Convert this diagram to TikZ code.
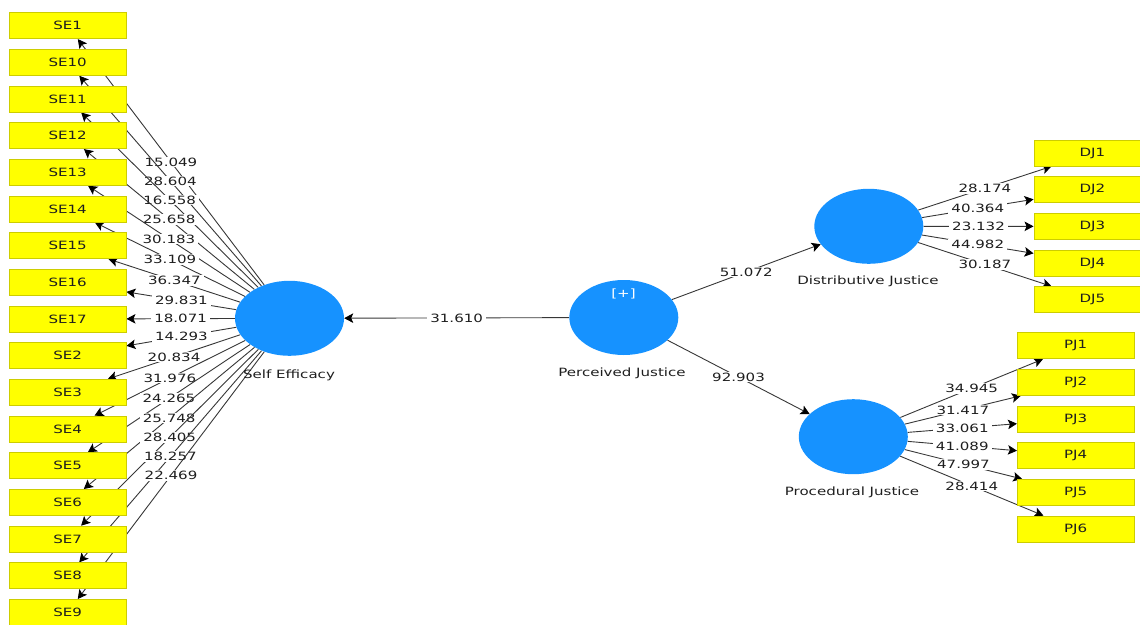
\documentclass[tikz,border=0pt]{standalone}
\usepackage{fontspec}
\setmainfont{DejaVu Sans}[FakeStretch=1.32]
\usetikzlibrary{shapes.geometric,arrows.meta}

\pgfdeclarelayer{edges}
\pgfsetlayers{edges,main}

\definecolor{lvblue}{RGB}{22,146,255}
\definecolor{mvyellow}{RGB}{255,255,0}
\definecolor{mvborder}{RGB}{205,205,0}
\definecolor{linkgray}{RGB}{55,55,55}
\definecolor{labeltext}{RGB}{30,30,30}

\tikzset{
  latent/.style={ellipse, fill=lvblue, minimum width=109pt, minimum height=75pt, inner sep=0pt},
  indicator/.style={rectangle, fill=mvyellow, draw=mvborder, line width=0.8pt,
    minimum width=116.7pt, minimum height=26pt, inner sep=0pt, text=labeltext},
  link/.style={draw=linkgray, line width=0.9pt,
    -{Stealth[length=9pt,width=9.5pt,inset=2pt,color=black,fill=black]}},
  coef/.style={fill=white, inner xsep=3pt, inner ysep=1pt, text=labeltext},
  lvname/.style={text=labeltext, inner sep=0pt}
}

\begin{document}
\begin{tikzpicture}[x=1pt, y=-1pt, font=\fontsize{11.4}{13}\selectfont]
\useasboundingbox (0,0) rectangle (1140,624);

% latent variables
\node[latent] (SE)  at (289.5,318.3) {};
\node[latent] (PJ)  at (623.8,317.5) {};
\node[latent] (DJ)  at (868.8,226.3) {};
\node[latent] (PrJ) at (853.3,436.7) {};
\node[text=white, inner sep=0pt] (plus) at (623.5,293.5) {[+]};

\node[lvname] (SEname)  at (289,375)   {Self Efficacy};
\node[lvname] (PJname)  at (622,373)   {Perceived Justice};
\node[lvname] (DJname)  at (868,281)   {Distributive Justice};
\node[lvname] (PrJname) at (852,492)   {Procedural Justice};

% Self Efficacy indicators
\foreach \name [count=\i from 0] in {SE1,SE10,SE11,SE12,SE13,SE14,SE15,SE16,SE17,SE2,SE3,SE4,SE5,SE6,SE7,SE8,SE9}
  \node[indicator] (\name) at (67.7,25.7+36.67*\i) {\name};

% Distributive Justice indicators
\foreach \name [count=\i from 0] in {DJ1,DJ2,DJ3,DJ4,DJ5}
  \node[indicator] (\name) at (1092.3,153+36.67*\i) {\name};

% Procedural Justice indicators
\foreach \name [count=\i from 0] in {PJ1,PJ2,PJ3,PJ4,PJ5,PJ6}
  \node[indicator] (\name) at (1075.7,345.7+36.67*\i) {\name};

\begin{pgfonlayer}{edges}
  \foreach \name/\val in {SE1/15.049,SE10/28.604,SE11/16.558,SE12/25.658,SE13/30.183,
      SE14/33.109,SE15/36.347,SE16/29.831,SE17/18.071,SE2/14.293,SE3/20.834,
      SE4/31.976,SE5/24.265,SE6/25.748,SE7/28.405,SE8/18.257,SE9/22.469}
    \draw[link] (SE) -- node[coef] {\val} (\name);

  \foreach \name/\val in {DJ1/28.174,DJ2/40.364,DJ3/23.132,DJ4/44.982,DJ5/30.187}
    \draw[link] (DJ) -- node[coef] {\val} (\name);

  \foreach \name/\val in {PJ1/34.945,PJ2/31.417,PJ3/33.061,PJ4/41.089,PJ5/47.997,PJ6/28.414}
    \draw[link] (PrJ) -- node[coef] {\val} (\name);

  \draw[link] (PJ) -- node[coef] {31.610} (SE);
  \draw[link] (PJ) -- node[coef] {51.072} (DJ);
  \draw[link] (PJ) -- node[coef] {92.903} (PrJ);
\end{pgfonlayer}
\end{tikzpicture}
\end{document}
